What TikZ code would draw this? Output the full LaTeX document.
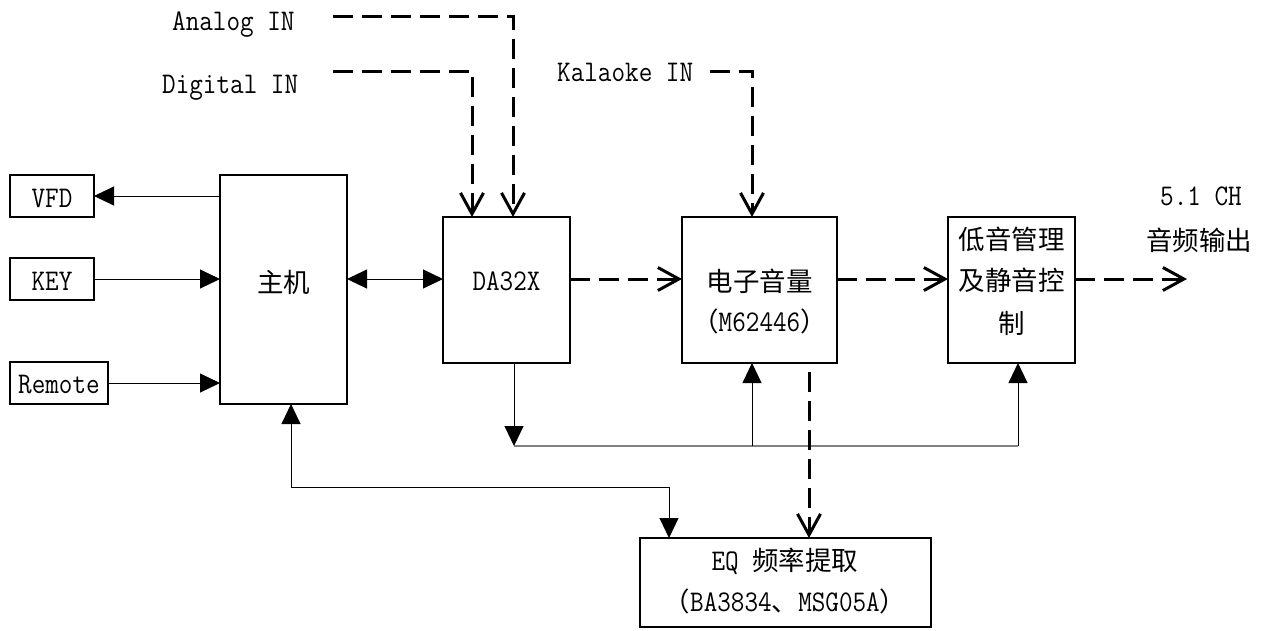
\documentclass[tikz,border=0pt]{standalone}
\usepackage{fontspec}
\newfontfamily\cjk{Noto Sans CJK SC}
\newfontfamily\lat{Latin Modern Mono}[FakeStretch=0.88]
\usetikzlibrary{arrows.meta}
\begin{document}
\begin{tikzpicture}[x=1pt,y=-1pt,
  box/.style={draw, line width=1.6pt, inner sep=0pt, outer sep=0pt, anchor=north west},
  txt/.style={anchor=base, inner sep=0pt, font=\lat\fontsize{30}{34}\selectfont},
  txtl/.style={txt, anchor=base west},
  thinln/.style={line width=1pt},
  dsh/.style={line width=3pt, dash pattern=on 20pt off 9pt},
  fa/.style={-{Triangle[length=20pt,width=19pt]}},
  faa/.style={{Triangle[length=20pt,width=19pt]}-{Triangle[length=20pt,width=19pt]}},
  oa/.style={-{Straight Barb[length=21pt,width=23pt]}},
  bus/.style={line width=1.8pt, black!50}
]
\useasboundingbox (0,0) rectangle (1264,630);
% boxes
\node[box, minimum width=84pt, minimum height=42pt] (vfd) at (10,175) {};
\node[box, minimum width=84pt, minimum height=42pt] (key) at (10,258) {};
\node[box, minimum width=98pt, minimum height=42pt] (rem) at (10,362) {};
\node[box, minimum width=127pt, minimum height=229pt] (host) at (220,175) {};
\node[box, minimum width=127pt, minimum height=146pt] (da) at (443,217) {};
\node[box, minimum width=155pt, minimum height=146pt] (vol) at (682,217) {};
\node[box, minimum width=127pt, minimum height=146pt] (bass) at (948,217) {};
\node[box, minimum width=291pt, minimum height=89pt] (eq) at (640,538) {};
% texts
\node[txt] (tvfd) at (52,207) {VFD};
\node[txt] (tkey) at (52,290) {KEY};
\node[txt] (trem) at (59,393) {Remote};
\node[txt] (thost) at (283.5,292) {\cjk\fontsize{26.5}{30}\selectfont 主机};
\node[txt] (tda) at (506.5,290) {DA32X};
\node[txt] (tvol1) at (759.5,291) {\cjk\fontsize{26.5}{30}\selectfont 电子音量};
\node[txt] (tvol2) at (759.5,331) {{\cjk\fontsize{26.5}{30}\selectfont （}M62446{\cjk\fontsize{26.5}{30}\selectfont ）}};
\node[txt] (tb1) at (1011.5,249) {\cjk\fontsize{26.5}{30}\selectfont 低音管理};
\node[txt] (tb2) at (1011.5,290) {\cjk\fontsize{26.5}{30}\selectfont 及静音控};
\node[txt] (tb3) at (1011.5,333) {\cjk\fontsize{26.5}{30}\selectfont 制};
\node[txt] (t51) at (1201,205) {5.1 CH};
\node[txt] (tout) at (1199,250) {\cjk\fontsize{26.5}{30}\selectfont 音频输出};
\node[txt] (teq1) at (785,570) {EQ {\cjk\fontsize{26.5}{30}\selectfont 频率提取}};
\node[txt] (teq2) at (785,611) {{\cjk\fontsize{26.5}{30}\selectfont （}BA3834{\cjk\fontsize{26.5}{30}\selectfont 、}MSG05A{\cjk\fontsize{26.5}{30}\selectfont ）}};
\node[txtl] (tan) at (172,30) {Analog IN};
\node[txtl] (tdg) at (162,93) {Digital IN};
\node[txtl] (tkl) at (557,81) {Kalaoke IN};
% free ends
\coordinate (an) at (333,16);
\coordinate (dg) at (333,71);
\coordinate (kl) at (710,71);
\coordinate (out) at (1187,279);
\coordinate (b1) at (514,446);
\coordinate (b2) at (752,446);
\coordinate (b3) at (1018,446);
\coordinate (h1) at (291,487);
\coordinate (h2) at (669,487);
% solid connectors
\draw[thinln, fa] (host.west |- vfd.east) -- (vfd.east);
\draw[thinln, fa] (key.east) -- (host.west |- key.east);
\draw[thinln, fa] (rem.east) -- (host.west |- rem.east);
\draw[thinln, faa] (host.east |- key.east) -- (da.west |- key.east);
% dashed signal path
\draw[dsh, oa] (da.east |- key.east) -- (vol.west |- key.east);
\draw[dsh, oa] (vol.east |- key.east) -- (bass.west |- key.east);
\draw[dsh, oa] (bass.east |- key.east) -- (out);
% inputs
\draw[dsh, oa] (an) -| (513,0 |- da.north);
\draw[dsh, oa] (dg) -| (472,0 |- da.north);
\draw[dsh, oa] (kl) -| (752,0 |- vol.north);
% bus
\draw[bus] (b1) -- (b3);
\draw[thinln, fa] (514,0 |- da.south) -- (b1);
\draw[thinln, fa] (b2) -- (b2 |- vol.south);
\draw[thinln, fa] (b3) -- (b3 |- bass.south);
% host - EQ
\draw[thinln, faa] (291,0 |- host.south) -- (h1) -- (h2) -- (h2 |- eq.north);
% vol - EQ
\draw[dsh, oa, shorten <=9pt] (809,0 |- vol.south) -- (809,0 |- eq.north);
\end{tikzpicture}
\end{document}
